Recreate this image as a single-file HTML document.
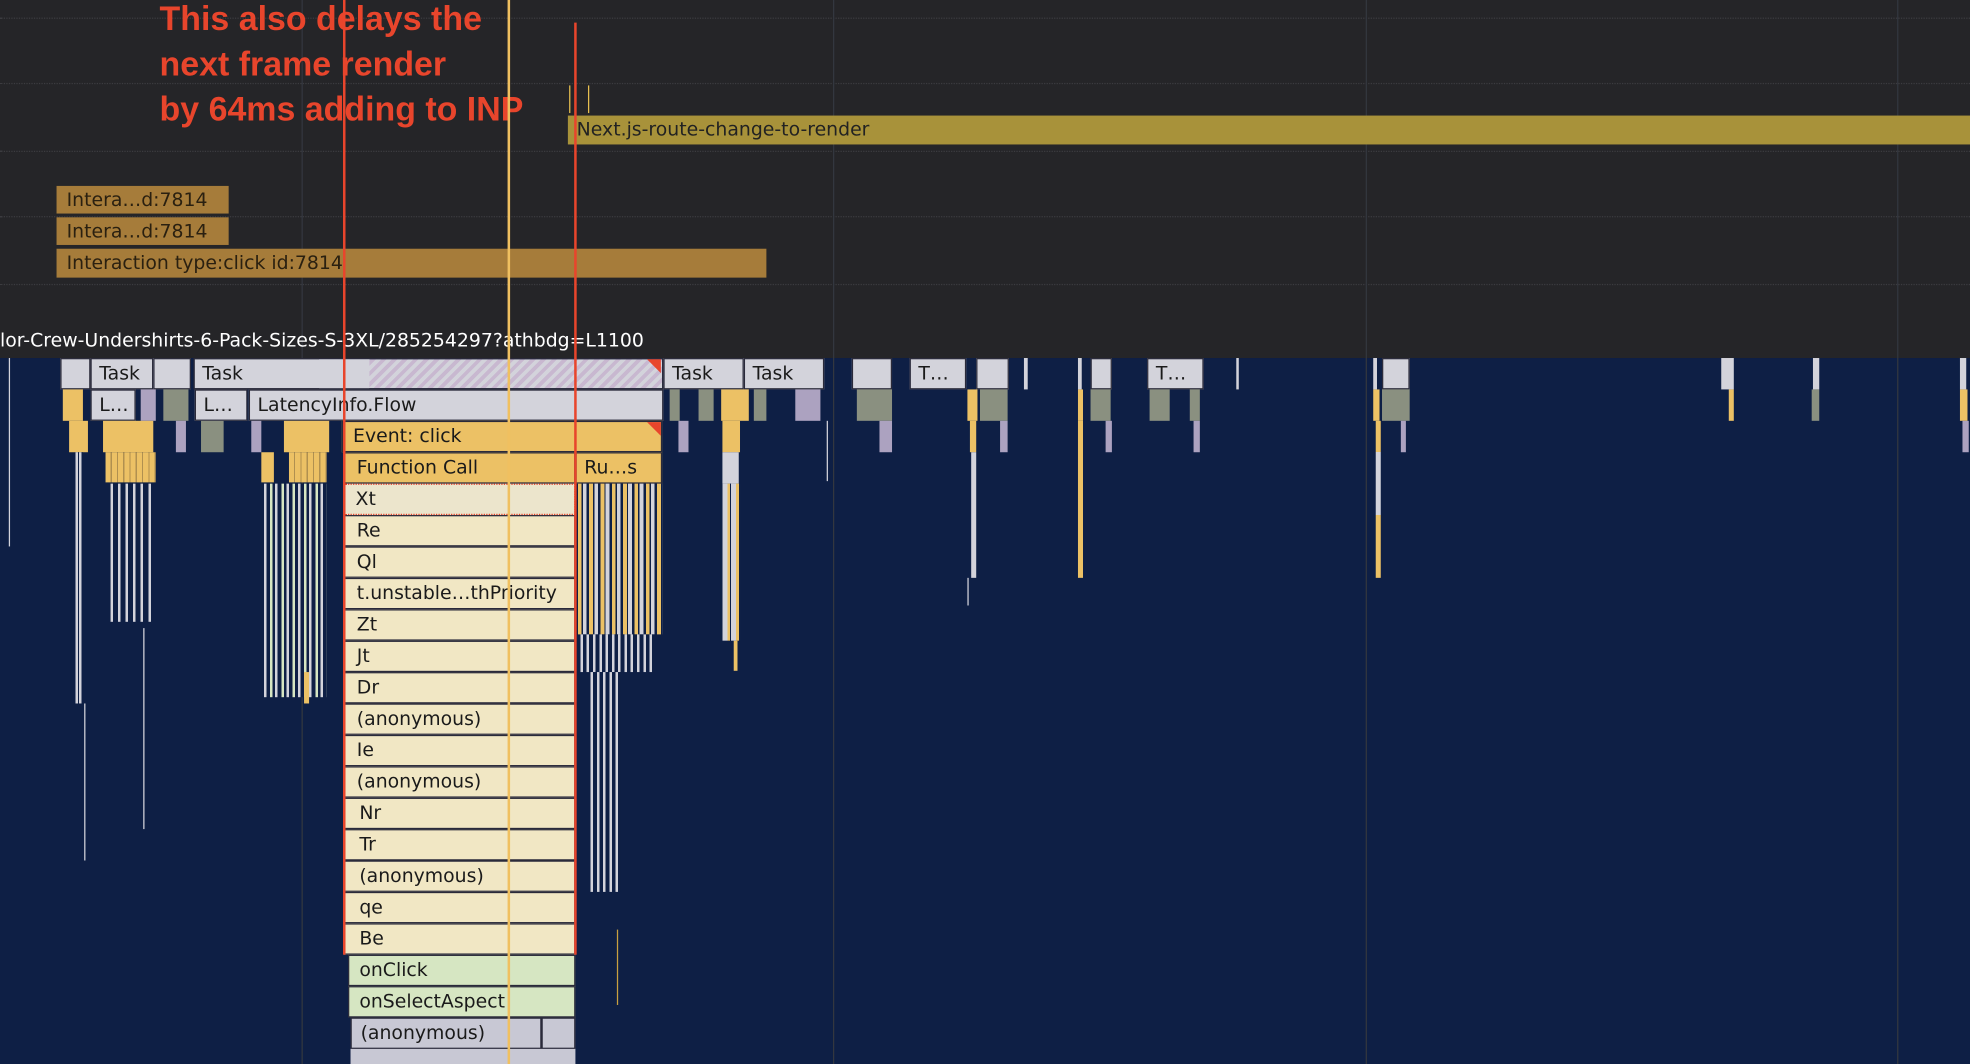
<!DOCTYPE html>
<html><head><meta charset="utf-8"><style>
html,body{margin:0;padding:0;width:1970px;height:1064px;overflow:hidden;background:#0e1f45}
#s{position:absolute;left:0;top:0;width:1568px;height:847px;transform:scale(1.25638,1.25620);transform-origin:0 0;font-family:"DejaVu Sans","Liberation Sans",sans-serif;overflow:hidden}
.a{position:absolute;box-sizing:border-box}
.t{font-size:15px;line-height:23px;color:#1a1a1a;padding-left:6px;white-space:nowrap;overflow:hidden;border:1px solid #2a2a3a}
.g{background:#d3d3db}.y{background:#ecc165}.c{background:#f1e7c4}.gr{background:#d6e6c2}.p{background:#aca2c0}.o{background:#8a9080}
.vl{position:absolute;width:1px;background:#33373f}
</style></head><body><div id="s">
<div class="a" style="left:0;top:0;width:1568px;height:285px;background:#252528"></div>
<div class="a" style="left:0;top:14px;width:1568px;border-top:1px dotted #3c3c40"></div>
<div class="a" style="left:0;top:66px;width:1568px;border-top:1px dotted #3c3c40"></div>
<div class="a" style="left:0;top:120px;width:1568px;border-top:1px dotted #3c3c40"></div>
<div class="a" style="left:0;top:172px;width:1568px;border-top:1px dotted #3c3c40"></div>
<div class="a" style="left:0;top:226px;width:1568px;border-top:1px dotted #3c3c40"></div>
<div class="vl" style="left:240px;top:0;height:847px"></div>
<div class="vl" style="left:663px;top:0;height:847px"></div>
<div class="vl" style="left:1087px;top:0;height:847px"></div>
<div class="vl" style="left:1510px;top:0;height:847px"></div>

<div class="a" style="left:127px;top:-3px;color:#e8452c;font-weight:bold;font-family:'Liberation Sans',sans-serif;font-size:27px;line-height:36px;white-space:nowrap">This also delays the<br>next frame render<br>by 64ms adding to INP</div>

<div class="a" style="left:453px;top:68px;width:1px;height:22px;background:#e8c050"></div>
<div class="a" style="left:468px;top:68px;width:1px;height:22px;background:#e8c050"></div>
<div class="a" style="left:452px;top:92px;width:1116px;height:23px;background:#a8923a;color:#222;font-size:15px;line-height:23px;padding-left:7px">Next.js-route-change-to-render</div>
<div class="a" style="left:45px;top:148px;width:137px;height:22px;background:#a67c3a;color:#2a2010;font-size:15px;line-height:22px;padding-left:8px;white-space:nowrap">Intera…d:7814</div>
<div class="a" style="left:45px;top:173px;width:137px;height:22px;background:#a67c3a;color:#2a2010;font-size:15px;line-height:22px;padding-left:8px;white-space:nowrap">Intera…d:7814</div>
<div class="a" style="left:45px;top:198px;width:565px;height:23px;background:#a67c3a;color:#2a2010;font-size:15px;line-height:23px;padding-left:8px">Interaction type:click id:7814</div>
<div class="a" style="left:0;top:260px;color:#fff;font-size:15px;line-height:22px;white-space:nowrap">lor-Crew-Undershirts-6-Pack-Sizes-S-3XL/285254297?athbdg=L1100</div>

<div class="a t g" style="left:48px;top:285px;width:24px;height:25px"></div>
<div class="a t g" style="left:72px;top:285px;width:50px;height:25px">Task</div>
<div class="a t g" style="left:122px;top:285px;width:30px;height:25px"></div>
<div class="a t g" style="left:154px;top:285px;width:374px;height:25px;background:repeating-linear-gradient(135deg,#d3d3db 0 3px,#c8b8d0 3px 6px)"></div>
<div class="a g" style="left:155px;top:286px;width:139px;height:23px"></div>
<div class="a t" style="left:154px;top:285px;width:100px;height:25px;border-right:none">Task</div>
<div class="a" style="left:515px;top:286px;width:0;height:0;border-top:11px solid #e8452c;border-left:11px solid transparent"></div>
<div class="a t g" style="left:528px;top:285px;width:64px;height:25px">Task</div>
<div class="a t g" style="left:592px;top:285px;width:64px;height:25px">Task</div>
<div class="a t g" style="left:678px;top:285px;width:32px;height:25px"></div>
<div class="a t g" style="left:724px;top:285px;width:45px;height:25px">T…</div>
<div class="a t g" style="left:777px;top:285px;width:26px;height:25px"></div>
<div class="a t g" style="left:868px;top:285px;width:17px;height:25px"></div>
<div class="a t g" style="left:913px;top:285px;width:45px;height:25px">T…</div>
<div class="a t g" style="left:1100px;top:285px;width:22px;height:25px"></div>
<div class="a g" style="left:1370px;top:285px;width:10px;height:25px"></div>
<div class="a g" style="left:1443px;top:285px;width:5px;height:25px"></div>
<div class="a g" style="left:1560px;top:285px;width:5px;height:25px"></div>
<div class="a g" style="left:815px;top:285px;width:3px;height:25px"></div>
<div class="a g" style="left:858px;top:285px;width:3px;height:25px"></div>
<div class="a g" style="left:984px;top:285px;width:2px;height:25px"></div>
<div class="a g" style="left:1093px;top:285px;width:3px;height:25px"></div>

<div class="a y" style="left:50px;top:310px;width:16px;height:25px"></div>
<div class="a t g" style="left:72px;top:310px;width:36px;height:25px">L…</div>
<div class="a p" style="left:112px;top:310px;width:12px;height:25px"></div>
<div class="a o" style="left:130px;top:310px;width:20px;height:25px"></div>
<div class="a t g" style="left:155px;top:310px;width:42px;height:25px">L…</div>
<div class="a t g" style="left:198px;top:310px;width:330px;height:25px">LatencyInfo.Flow</div>
<div class="a o" style="left:533px;top:310px;width:8px;height:25px"></div>
<div class="a o" style="left:556px;top:310px;width:12px;height:25px"></div>
<div class="a y" style="left:574px;top:310px;width:22px;height:25px"></div>
<div class="a o" style="left:600px;top:310px;width:10px;height:25px"></div>
<div class="a p" style="left:633px;top:310px;width:20px;height:25px"></div>
<div class="a o" style="left:682px;top:310px;width:28px;height:25px"></div>
<div class="a y" style="left:770px;top:310px;width:8px;height:25px"></div>
<div class="a o" style="left:780px;top:310px;width:22px;height:25px"></div>
<div class="a o" style="left:868px;top:310px;width:16px;height:25px"></div>
<div class="a y" style="left:858px;top:310px;width:4px;height:25px"></div>
<div class="a o" style="left:915px;top:310px;width:16px;height:25px"></div>
<div class="a o" style="left:947px;top:310px;width:8px;height:25px"></div>
<div class="a y" style="left:1093px;top:310px;width:5px;height:25px"></div>
<div class="a o" style="left:1100px;top:310px;width:22px;height:25px"></div>
<div class="a y" style="left:1376px;top:310px;width:4px;height:25px"></div>
<div class="a o" style="left:1442px;top:310px;width:6px;height:25px"></div>
<div class="a y" style="left:1560px;top:310px;width:6px;height:25px"></div>

<div class="a y" style="left:55px;top:335px;width:15px;height:25px"></div>
<div class="a y" style="left:82px;top:335px;width:40px;height:25px"></div>
<div class="a p" style="left:140px;top:335px;width:8px;height:25px"></div>
<div class="a o" style="left:160px;top:335px;width:18px;height:25px"></div>
<div class="a p" style="left:200px;top:335px;width:8px;height:25px"></div>
<div class="a y" style="left:226px;top:335px;width:36px;height:25px"></div>
<div class="a y" style="left:84px;top:360px;width:40px;height:24px;background:repeating-linear-gradient(90deg,#ecc165 0 4px,#b09050 4px 5px)"></div>
<div class="a y" style="left:208px;top:360px;width:10px;height:24px"></div>
<div class="a y" style="left:230px;top:360px;width:30px;height:24px;background:repeating-linear-gradient(90deg,#ecc165 0 4px,#b09050 4px 5px)"></div>
<div class="a g" style="left:60px;top:360px;width:6px;height:200px;background:repeating-linear-gradient(90deg,#d3d3db 0 2px,#0e1f45 2px 3px)"></div>
<div class="a g" style="left:88px;top:385px;width:34px;height:110px;background:repeating-linear-gradient(90deg,#d3d3db 0 2px,#0e1f45 2px 6px)"></div>
<div class="a g" style="left:210px;top:385px;width:50px;height:170px;background:repeating-linear-gradient(90deg,#d3d3db 0 2px,#0e1f45 2px 5px,#d6e6c2 5px 7px,#0e1f45 7px 9px)"></div>
<div class="a y" style="left:242px;top:535px;width:4px;height:25px"></div>
<div class="a" style="left:67px;top:560px;width:1px;height:125px;background:#d3d3db"></div>
<div class="a" style="left:114px;top:500px;width:1px;height:160px;background:#d3d3db"></div>
<div class="a" style="left:7px;top:285px;width:1px;height:150px;background:#d3d3db"></div>

<div class="a t y" style="left:272px;top:335px;width:255px;height:25px;padding-left:8px">Event: click</div>
<div class="a" style="left:515px;top:336px;width:0;height:0;border-top:11px solid #e8452c;border-left:11px solid transparent"></div>
<div class="a t y" style="left:274px;top:360px;width:184px;height:25px;padding-left:9px">Function Call</div>
<div class="a t y" style="left:458px;top:360px;width:69px;height:25px">Ru…s</div>
<div class="a t c" style="left:274px;top:385px;width:184px;height:25px;padding-left:8px;border:1px dotted #e8452c;background:#ece5cc">Xt</div>
<div class="a t c" style="left:274px;top:410px;width:184px;height:25px;padding-left:9px">Re</div>
<div class="a t c" style="left:274px;top:435px;width:184px;height:25px;padding-left:9px">Ql</div>
<div class="a t c" style="left:274px;top:460px;width:184px;height:25px;padding-left:9px">t.unstable…thPriority</div>
<div class="a t c" style="left:274px;top:485px;width:184px;height:25px;padding-left:9px">Zt</div>
<div class="a t c" style="left:274px;top:510px;width:184px;height:25px;padding-left:9px">Jt</div>
<div class="a t c" style="left:274px;top:535px;width:184px;height:25px;padding-left:9px">Dr</div>
<div class="a t c" style="left:274px;top:560px;width:184px;height:25px;padding-left:9px">(anonymous)</div>
<div class="a t c" style="left:274px;top:585px;width:184px;height:25px;padding-left:9px">Ie</div>
<div class="a t c" style="left:274px;top:610px;width:184px;height:25px;padding-left:9px">(anonymous)</div>
<div class="a t c" style="left:274px;top:635px;width:184px;height:25px;padding-left:11px">Nr</div>
<div class="a t c" style="left:274px;top:660px;width:184px;height:25px;padding-left:11px">Tr</div>
<div class="a t c" style="left:274px;top:685px;width:184px;height:25px;padding-left:11px">(anonymous)</div>
<div class="a t c" style="left:274px;top:710px;width:184px;height:25px;padding-left:11px">qe</div>
<div class="a t c" style="left:274px;top:735px;width:184px;height:25px;padding-left:11px">Be</div>
<div class="a t gr" style="left:277px;top:760px;width:181px;height:25px;padding-left:8px">onClick</div>
<div class="a t gr" style="left:277px;top:785px;width:181px;height:25px;padding-left:8px">onSelectAspect</div>
<div class="a t g" style="left:279px;top:810px;width:152px;height:25px;padding-left:7px;background:#c8c8d4">(anonymous)</div>
<div class="a g" style="left:431px;top:810px;width:27px;height:25px;background:#c8c8d4;border:1px solid #2a2a3a"></div>
<div class="a g" style="left:279px;top:835px;width:179px;height:12px;background:#c8c8d4"></div>

<div class="a" style="left:460px;top:385px;width:67px;height:120px;background:repeating-linear-gradient(90deg,#ecc165 0 3px,#0e1f45 3px 4px,#d3d3db 4px 7px,#0e1f45 7px 9px)"></div>
<div class="a" style="left:462px;top:505px;width:60px;height:30px;background:repeating-linear-gradient(90deg,#d3d3db 0 2px,#0e1f45 2px 5px)"></div>
<div class="a" style="left:470px;top:535px;width:24px;height:175px;background:repeating-linear-gradient(90deg,#d3d3db 0 2px,#0e1f45 2px 5px)"></div>
<div class="a" style="left:491px;top:740px;width:1px;height:60px;background:#c8a040"></div>
<div class="a p" style="left:540px;top:335px;width:8px;height:25px"></div>
<div class="a y" style="left:575px;top:335px;width:14px;height:25px"></div>
<div class="a g" style="left:575px;top:360px;width:13px;height:25px"></div>
<div class="a" style="left:575px;top:385px;width:14px;height:125px;background:repeating-linear-gradient(90deg,#d3d3db 0 4px,#ecc165 4px 6px,#0e1f45 6px 7px)"></div>
<div class="a y" style="left:584px;top:510px;width:3px;height:24px"></div>
<div class="a p" style="left:700px;top:335px;width:10px;height:25px"></div>
<div class="a y" style="left:772px;top:335px;width:5px;height:25px"></div>
<div class="a p" style="left:796px;top:335px;width:6px;height:25px"></div>
<div class="a" style="left:773px;top:360px;width:4px;height:100px;background:#d3d3db"></div>
<div class="a y" style="left:858px;top:335px;width:4px;height:125px"></div>
<div class="a p" style="left:880px;top:335px;width:5px;height:25px"></div>
<div class="a p" style="left:950px;top:335px;width:5px;height:25px"></div>
<div class="a" style="left:1095px;top:335px;width:4px;height:125px;background:repeating-linear-gradient(180deg,#ecc165 0 25px,#d3d3db 25px 75px,#ecc165 75px 125px)"></div>
<div class="a p" style="left:1115px;top:335px;width:4px;height:25px"></div>
<div class="a p" style="left:1562px;top:335px;width:5px;height:25px"></div>
<div class="a" style="left:658px;top:335px;width:1px;height:48px;background:#d3d3db"></div>
<div class="a" style="left:770px;top:460px;width:1px;height:22px;background:#d3d3db"></div>

<div class="a" style="left:404px;top:0;width:2px;height:847px;background:#f0c060"></div>
<div class="a" style="left:273px;top:0;width:2px;height:760px;background:#e8452c"></div>
<div class="a" style="left:457px;top:18px;width:2px;height:742px;background:#e8452c"></div>
</div></body></html>
